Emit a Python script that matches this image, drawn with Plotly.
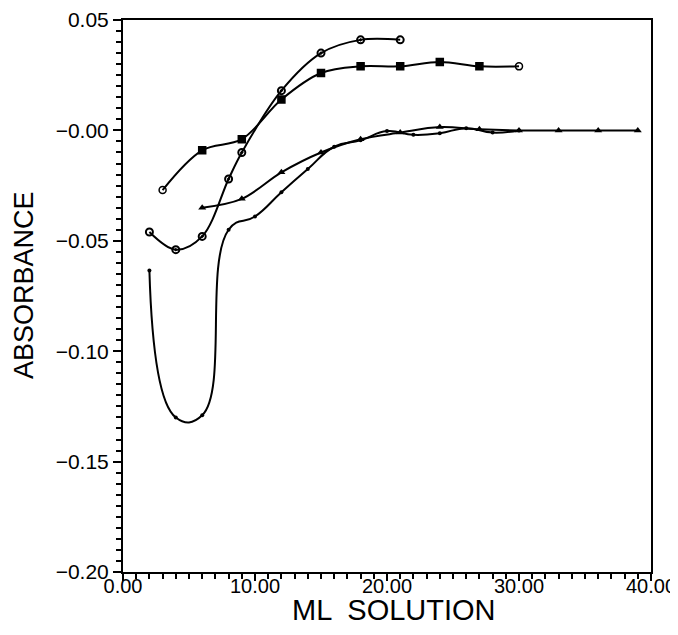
import plotly.graph_objects as go

# Series 1: circles (open end points)
s1_x = [2, 4, 6, 8, 9, 12, 15, 18, 21]
s1_y = [-0.046, -0.054, -0.048, -0.022, -0.010, 0.018, 0.035, 0.041, 0.041]

# Series 2: squares (open circle end points)
s2_x = [3, 6, 9, 12, 15, 18, 21, 24, 27, 30]
s2_y = [-0.027, -0.009, -0.004, 0.014, 0.026, 0.029, 0.029, 0.031, 0.029, 0.029]

# Series 3: triangles
s3_x = [6, 9, 12, 15, 18, 21, 24, 27, 30, 33, 36, 39]
s3_y = [-0.035, -0.031, -0.019, -0.010, -0.004, -0.001, 0.0015, 0.0005, 0.0, 0.0, 0.0, 0.0]

# Series 4: small dots
s4_x = [2, 4, 6, 8, 10, 12, 14, 16, 18, 20, 22, 24, 26, 28, 30]
s4_y = [-0.0635, -0.130, -0.129, -0.045, -0.039, -0.028, -0.0175, -0.0074, -0.0045,
        -0.0003, -0.002, -0.0013, 0.001, -0.001, 0.0]

x_ticks = [0, 10, 20, 30, 40]
x_ticktext = ["0.00", "10.00", "20.00", "30.00", "40.00"]
y_ticks = [-0.20, -0.15, -0.10, -0.05, 0.0, 0.05]
y_ticktext = ["\u22120.20", "\u22120.15", "\u22120.10", "\u22120.05", "\u22120.00", "0.05"]
x_title = "ML  SOLUTION"
y_title = "ABSORBANCE"

FONT = "Liberation Sans, Arial, sans-serif"

fig = go.Figure()

def ends_open(n, mid):
    return ["circle-open"] + [mid] * (n - 2) + ["circle-open"]

line = dict(color="black", width=2, shape="spline", smoothing=1.0)

fig.add_trace(go.Scatter(
    x=s1_x, y=s1_y, mode="lines+markers", line=line,
    marker=dict(symbol=ends_open(len(s1_x), "circle-open-dot"), size=7, color="black",
                line=dict(color="black", width=2)),
    showlegend=False))
fig.add_trace(go.Scatter(
    x=s2_x, y=s2_y, mode="lines+markers", line=line,
    marker=dict(symbol=ends_open(len(s2_x), "square"), size=7, color="black",
                line=dict(color="black", width=1.5)),
    showlegend=False))
fig.add_trace(go.Scatter(
    x=s3_x, y=s3_y, mode="lines+markers", line=line,
    marker=dict(symbol="triangle-up", size=7, color="black"),
    showlegend=False))
fig.add_trace(go.Scatter(
    x=s4_x, y=s4_y, mode="lines+markers",
    line=dict(color="black", width=2, shape="spline", smoothing=1.3),
    marker=dict(symbol="circle", size=4, color="black"),
    showlegend=False))

fig.add_annotation(text=x_title, xref="paper", yref="paper", x=0.513, y=-0.0688,
                   xanchor="center", yanchor="middle", showarrow=False,
                   font=dict(size=29, family=FONT, color="black"))
fig.add_annotation(text=y_title, xref="paper", yref="paper", x=-0.1875, y=0.52,
                   xanchor="center", yanchor="middle", showarrow=False, textangle=-90,
                   font=dict(size=27, family=FONT, color="black"))

fig.update_layout(
    width=670, height=619,
    margin=dict(l=115, r=27, t=12, b=55, autoexpand=False),
    paper_bgcolor="white", plot_bgcolor="white",
    font=dict(family=FONT, color="black"),
    xaxis=dict(
        range=[0, 40], tickvals=x_ticks, ticktext=x_ticktext, automargin=False,
        showgrid=False, zeroline=False, showline=True, linecolor="black", linewidth=2,
        mirror=True, ticks="outside", ticklen=7, tickwidth=2, tickcolor="black",
        ticklabelstandoff=-12, ticklabeloverflow="allow",
        minor=dict(dtick=1, ticks="outside", ticklen=5, tickwidth=2, tickcolor="black", showgrid=False),
        tickfont=dict(size=20, family=FONT),
    ),
    yaxis=dict(
        range=[-0.20, 0.05], tickvals=y_ticks, ticktext=y_ticktext, automargin=False,
        showgrid=False, zeroline=False, showline=True, linecolor="black", linewidth=2,
        mirror=True, ticks="outside", ticklen=8, tickwidth=2, tickcolor="black",
        minor=dict(dtick=0.005, ticks="outside", ticklen=5, tickwidth=2, tickcolor="black", showgrid=False),
        tickfont=dict(size=21, family=FONT),
    ),
)

fig.write_html("out.html")
